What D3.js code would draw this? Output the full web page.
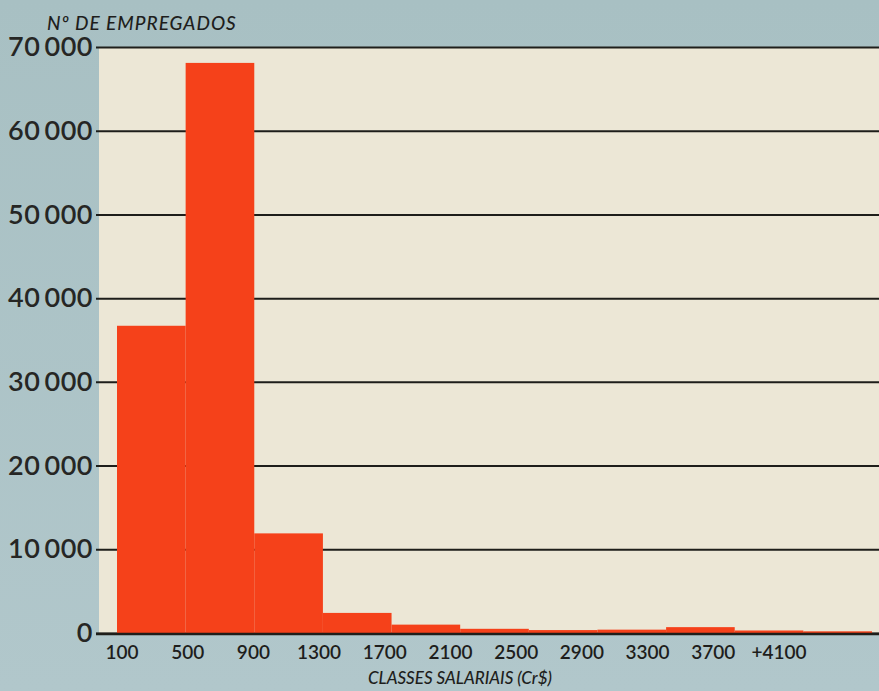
<!DOCTYPE html>
<html>
<head>
<meta charset="utf-8">
<script src="https://cdn.jsdelivr.net/npm/d3@7/dist/d3.min.js"></script>
<style>
  html, body { margin: 0; padding: 0; background: #adc3c6; }
  svg { display: block; }
</style>
</head>
<body>
<script>
const categories = ["100", "500", "900", "1300", "1700", "2100", "2500", "2900", "3300", "3700", "+4100"];
const values = [36700, 68100, 11900, 2400, 1000, 500, 350, 400, 700, 300, 200];
const yTicks = [0, 10000, 20000, 30000, 40000, 50000, 60000, 70000];
const yTitle = "Nº DE EMPREGADOS";
const xTitle = "CLASSES SALARIAIS (Cr$)";

const W = 879, H = 691;
const plot = { left: 99, right: 879, top: 47, bottom: 633 };

const svg = d3.select("body").append("svg")
  .attr("width", W).attr("height", H);

// background
const defs = svg.append("defs");
const g1 = defs.append("linearGradient").attr("id", "bg").attr("x1", 0).attr("y1", 0).attr("x2", 0).attr("y2", 1);
g1.append("stop").attr("offset", "0%").attr("stop-color", "#a8c0c3");
g1.append("stop").attr("offset", "100%").attr("stop-color", "#b1c7cb");
svg.append("rect").attr("width", W).attr("height", H).attr("fill", "url(#bg)");

// plot area (paper)
svg.append("rect")
  .attr("x", plot.left).attr("y", plot.top)
  .attr("width", plot.right - plot.left).attr("height", plot.bottom - plot.top)
  .attr("fill", "#ece7d6");

const y = d3.scaleLinear().domain([0, 70000]).range([plot.bottom, plot.top]);
const x = d3.scaleBand().domain(categories).range([117, 872]).paddingInner(0).paddingOuter(0);
const xLabel = d3.scalePoint().domain(categories).range([122, 779]);

const fmt = d => d === 0 ? "0" : d3.format(",")(d).replace(",", " ");

// gridlines + y labels
const yAxis = d3.axisLeft(y).tickValues(yTicks).tickSize(-(plot.right - 96)).tickPadding(3).tickFormat(fmt);
const ya = svg.append("g").attr("transform", "translate(96,0)").call(yAxis);
ya.select(".domain").remove();
ya.selectAll(".tick line").attr("stroke", "#1e1e1a").attr("stroke-width", 2);
ya.selectAll(".tick text")
  .attr("fill", "#262624")
  .style("font-family", "Lato, 'Noto Sans', sans-serif")
  .style("font-size", "27px")
  .style("font-weight", "600")
  .style("word-spacing", "-3px")
  .style("letter-spacing", "0.5px");

// bars
svg.append("g").selectAll("rect").data(values).join("rect")
  .attr("x", (d, i) => x(categories[i]))
  .attr("width", x.bandwidth())
  .attr("y", d => y(d))
  .attr("height", d => y(0) - y(d))
  .attr("fill", "#f5411a");

// baseline
svg.append("line")
  .attr("x1", 96).attr("x2", plot.right)
  .attr("y1", y(0) + 1).attr("y2", y(0) + 1)
  .attr("stroke", "#1e1e1a").attr("stroke-width", 2.5);

// x labels
svg.append("g").selectAll("text").data(categories).join("text")
  .attr("x", d => xLabel(d))
  .attr("y", 659)
  .attr("text-anchor", "middle")
  .attr("fill", "#1e1e1c")
  .style("font-family", "Lato, 'Noto Sans', sans-serif")
  .style("font-size", "19px")
  .style("font-weight", "600")
  .text(d => d);

// titles
svg.append("text")
  .attr("x", 47).attr("y", 30)
  .attr("fill", "#1e1e1c")
  .style("font-family", "Lato, 'Noto Sans', sans-serif")
  .style("font-size", "19px")
  .style("font-style", "italic")
  .style("font-weight", "500")
  .style("letter-spacing", "1px")
  .text(yTitle);

svg.append("text")
  .attr("x", 460).attr("y", 684)
  .attr("text-anchor", "middle")
  .attr("fill", "#1e1e1c")
  .style("font-family", "Lato, 'Noto Sans', sans-serif")
  .style("font-size", "17px")
  .style("font-style", "italic")
  .style("font-weight", "500")
  .text(xTitle);
</script>
</body>
</html>
